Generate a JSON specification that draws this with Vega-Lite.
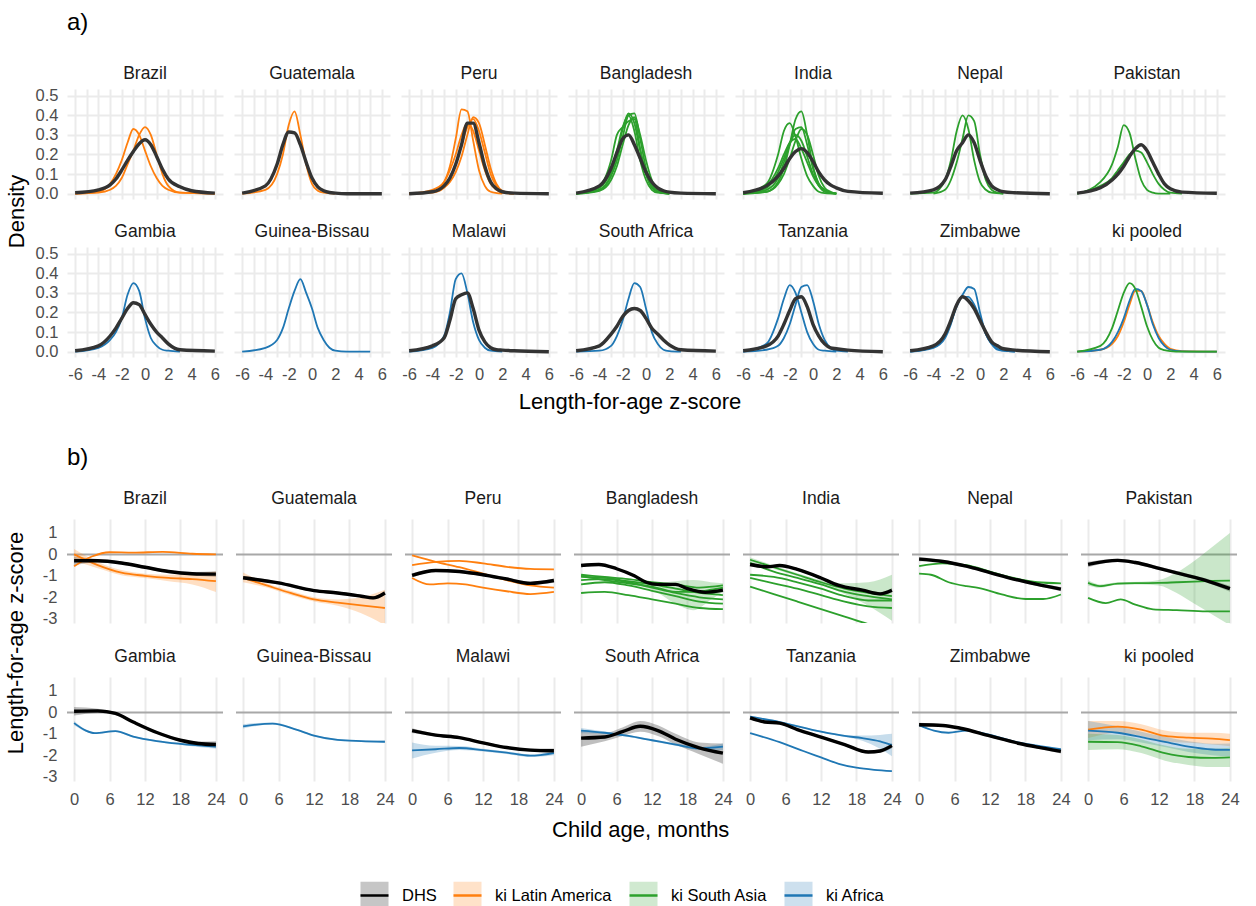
{
"$schema":"https://vega.github.io/schema/vega-lite/v6.json",
"padding":{"left":5,"top":10,"right":5,"bottom":5},
"background":"white",
"config":{"font":"Liberation Sans","view":{"stroke":null},
"axis":{"labelColor":"#4D4D4D","labelFontSize":16.5,"ticks":false,"domain":false,"gridColor":"#EBEBEB","gridWidth":2,"labelPadding":9,"labelOverlap":false,"labelFlush":false,"title":null},
"title":{"fontSize":24,"fontWeight":"normal","anchor":"start","color":"#000000"},
"concat":{"spacing":32}},
"resolve":{"scale":{"stroke":"shared","fill":"shared"},"legend":{"stroke":"shared","fill":"shared"}},
"datasets":{
"curves":[
{"k":"a1","c":"Brazil","g":"DHS"},{"k":"a2","c":"Brazil","g":"ki Latin America"},{"k":"a3","c":"Brazil","g":"ki Latin America"},
{"k":"a4","c":"Guatemala","g":"DHS"},{"k":"a5","c":"Guatemala","g":"ki Latin America"},
{"k":"a6","c":"Peru","g":"DHS"},{"k":"a7","c":"Peru","g":"ki Latin America"},{"k":"a8","c":"Peru","g":"ki Latin America"},{"k":"a9","c":"Peru","g":"ki Latin America"},{"k":"a10","c":"Peru","g":"ki Latin America"},
{"k":"a11","c":"Bangladesh","g":"DHS"},{"k":"a12","c":"Bangladesh","g":"ki South Asia"},{"k":"a13","c":"Bangladesh","g":"ki South Asia"},{"k":"a14","c":"Bangladesh","g":"ki South Asia"},{"k":"a15","c":"Bangladesh","g":"ki South Asia"},{"k":"a16","c":"Bangladesh","g":"ki South Asia"},
{"k":"a17","c":"India","g":"DHS"},{"k":"a18","c":"India","g":"ki South Asia"},{"k":"a19","c":"India","g":"ki South Asia"},{"k":"a20","c":"India","g":"ki South Asia"},{"k":"a21","c":"India","g":"ki South Asia"},{"k":"a22","c":"India","g":"ki South Asia"},{"k":"a23","c":"India","g":"ki South Asia"},
{"k":"a24","c":"Nepal","g":"DHS"},{"k":"a25","c":"Nepal","g":"ki South Asia"},{"k":"a26","c":"Nepal","g":"ki South Asia"},
{"k":"a27","c":"Pakistan","g":"DHS"},{"k":"a28","c":"Pakistan","g":"ki South Asia"},{"k":"a29","c":"Pakistan","g":"ki South Asia"},
{"k":"a30","c":"Gambia","g":"DHS"},{"k":"a31","c":"Gambia","g":"ki Africa"},
{"k":"a32","c":"Guinea-Bissau","g":"ki Africa"},
{"k":"a33","c":"Malawi","g":"DHS"},{"k":"a34","c":"Malawi","g":"ki Africa"},
{"k":"a35","c":"South Africa","g":"DHS"},{"k":"a36","c":"South Africa","g":"ki Africa"},
{"k":"a37","c":"Tanzania","g":"DHS"},{"k":"a38","c":"Tanzania","g":"ki Africa"},{"k":"a39","c":"Tanzania","g":"ki Africa"},
{"k":"a40","c":"Zimbabwe","g":"DHS"},{"k":"a41","c":"Zimbabwe","g":"ki Africa"},{"k":"a42","c":"Zimbabwe","g":"ki Africa"},
{"k":"a43","c":"ki pooled","g":"ki Latin America"},{"k":"a44","c":"ki pooled","g":"ki Africa"},{"k":"a45","c":"ki pooled","g":"ki South Asia"},
{"k":"b1","c":"Brazil","g":"DHS"},{"k":"b2","c":"Brazil","g":"ki Latin America"},{"k":"b3","c":"Brazil","g":"ki Latin America"},
{"k":"b4","c":"Guatemala","g":"DHS"},{"k":"b5","c":"Guatemala","g":"ki Latin America"},
{"k":"b6","c":"Peru","g":"DHS"},{"k":"b7","c":"Peru","g":"ki Latin America"},{"k":"b8","c":"Peru","g":"ki Latin America"},{"k":"b9","c":"Peru","g":"ki Latin America"},
{"k":"b10","c":"Bangladesh","g":"DHS"},{"k":"b11","c":"Bangladesh","g":"ki South Asia"},{"k":"b12","c":"Bangladesh","g":"ki South Asia"},{"k":"b13","c":"Bangladesh","g":"ki South Asia"},{"k":"b14","c":"Bangladesh","g":"ki South Asia"},{"k":"b15","c":"Bangladesh","g":"ki South Asia"},{"k":"b16","c":"Bangladesh","g":"ki South Asia"},
{"k":"b17","c":"India","g":"DHS"},{"k":"b18","c":"India","g":"ki South Asia"},{"k":"b19","c":"India","g":"ki South Asia"},{"k":"b20","c":"India","g":"ki South Asia"},{"k":"b21","c":"India","g":"ki South Asia"},{"k":"b22","c":"India","g":"ki South Asia"},
{"k":"b23","c":"Nepal","g":"DHS"},{"k":"b24","c":"Nepal","g":"ki South Asia"},{"k":"b25","c":"Nepal","g":"ki South Asia"},
{"k":"b26","c":"Pakistan","g":"DHS"},{"k":"b27","c":"Pakistan","g":"ki South Asia"},{"k":"b28","c":"Pakistan","g":"ki South Asia"},
{"k":"b29","c":"Gambia","g":"DHS"},{"k":"b30","c":"Gambia","g":"ki Africa"},
{"k":"b31","c":"Guinea-Bissau","g":"ki Africa"},
{"k":"b32","c":"Malawi","g":"DHS"},{"k":"b33","c":"Malawi","g":"ki Africa"},
{"k":"b34","c":"South Africa","g":"DHS"},{"k":"b35","c":"South Africa","g":"ki Africa"},
{"k":"b36","c":"Tanzania","g":"DHS"},{"k":"b37","c":"Tanzania","g":"ki Africa"},{"k":"b38","c":"Tanzania","g":"ki Africa"},
{"k":"b39","c":"Zimbabwe","g":"DHS"},{"k":"b40","c":"Zimbabwe","g":"ki Africa"},
{"k":"b41","c":"ki pooled","g":"ki Latin America"},{"k":"b42","c":"ki pooled","g":"ki Africa"},{"k":"b43","c":"ki pooled","g":"ki South Asia"}
],
"dens":[
{"k":"a1","x":-6,"y":0.005},{"k":"a1","x":-4,"y":0.02},{"k":"a1","x":-3,"y":0.045},{"k":"a1","x":-2.5,"y":0.075},{"k":"a1","x":-2,"y":0.12},{"k":"a1","x":-1.5,"y":0.17},{"k":"a1","x":-1,"y":0.215},{"k":"a1","x":-0.5,"y":0.255},{"k":"a1","x":0,"y":0.275},{"k":"a1","x":0.5,"y":0.25},{"k":"a1","x":1,"y":0.19},{"k":"a1","x":1.5,"y":0.125},{"k":"a1","x":2,"y":0.075},{"k":"a1","x":3,"y":0.035},{"k":"a1","x":4,"y":0.015},{"k":"a1","x":6,"y":0.003},
{"k":"a2","x":-6,"y":0},{"k":"a2","x":-4,"y":0.01},{"k":"a2","x":-3,"y":0.05},{"k":"a2","x":-2.5,"y":0.1},{"k":"a2","x":-2,"y":0.17},{"k":"a2","x":-1.5,"y":0.26},{"k":"a2","x":-1,"y":0.33},{"k":"a2","x":-0.5,"y":0.3},{"k":"a2","x":0,"y":0.22},{"k":"a2","x":0.5,"y":0.14},{"k":"a2","x":1,"y":0.08},{"k":"a2","x":1.5,"y":0.04},{"k":"a2","x":2,"y":0.02},{"k":"a2","x":3,"y":0.005},{"k":"a2","x":6,"y":0},
{"k":"a3","x":-6,"y":0},{"k":"a3","x":-4,"y":0.005},{"k":"a3","x":-3,"y":0.02},{"k":"a3","x":-2.5,"y":0.04},{"k":"a3","x":-2,"y":0.08},{"k":"a3","x":-1.5,"y":0.15},{"k":"a3","x":-1,"y":0.22},{"k":"a3","x":-0.5,"y":0.3},{"k":"a3","x":0,"y":0.34},{"k":"a3","x":0.5,"y":0.3},{"k":"a3","x":1,"y":0.2},{"k":"a3","x":1.5,"y":0.1},{"k":"a3","x":2,"y":0.04},{"k":"a3","x":3,"y":0.005},{"k":"a3","x":6,"y":0},
{"k":"a4","x":-6,"y":0.003},{"k":"a4","x":-4,"y":0.04},{"k":"a4","x":-3,"y":0.15},{"k":"a4","x":-2.5,"y":0.25},{"k":"a4","x":-2,"y":0.315},{"k":"a4","x":-1.5,"y":0.31},{"k":"a4","x":-1,"y":0.25},{"k":"a4","x":-0.5,"y":0.16},{"k":"a4","x":0,"y":0.08},{"k":"a4","x":0.5,"y":0.035},{"k":"a4","x":1,"y":0.015},{"k":"a4","x":1.5,"y":0.006},{"k":"a4","x":2,"y":0.003},{"k":"a4","x":3,"y":0},{"k":"a4","x":6,"y":0},
{"k":"a5","x":-6,"y":0},{"k":"a5","x":-4,"y":0.02},{"k":"a5","x":-3,"y":0.1},{"k":"a5","x":-2.5,"y":0.2},{"k":"a5","x":-2,"y":0.35},{"k":"a5","x":-1.5,"y":0.42},{"k":"a5","x":-1,"y":0.3},{"k":"a5","x":-0.5,"y":0.15},{"k":"a5","x":0,"y":0.05},{"k":"a5","x":0.5,"y":0.015},{"k":"a5","x":1,"y":0.005},{"k":"a5","x":2,"y":0},
{"k":"a6","x":-6,"y":0},{"k":"a6","x":-4,"y":0.01},{"k":"a6","x":-3,"y":0.04},{"k":"a6","x":-2.5,"y":0.08},{"k":"a6","x":-2,"y":0.15},{"k":"a6","x":-1.5,"y":0.25},{"k":"a6","x":-1,"y":0.36},{"k":"a6","x":-0.5,"y":0.36},{"k":"a6","x":0,"y":0.26},{"k":"a6","x":0.5,"y":0.14},{"k":"a6","x":1,"y":0.06},{"k":"a6","x":1.5,"y":0.025},{"k":"a6","x":2,"y":0.01},{"k":"a6","x":3,"y":0.003},{"k":"a6","x":6,"y":0},
{"k":"a7","x":-6,"y":0},{"k":"a7","x":-4,"y":0.01},{"k":"a7","x":-3,"y":0.06},{"k":"a7","x":-2.5,"y":0.14},{"k":"a7","x":-2,"y":0.28},{"k":"a7","x":-1.5,"y":0.43},{"k":"a7","x":-1,"y":0.42},{"k":"a7","x":-0.5,"y":0.27},{"k":"a7","x":0,"y":0.12},{"k":"a7","x":0.5,"y":0.04},{"k":"a7","x":1,"y":0.01},{"k":"a7","x":2,"y":0},
{"k":"a8","x":-6,"y":0},{"k":"a8","x":-4,"y":0.005},{"k":"a8","x":-3,"y":0.03},{"k":"a8","x":-2.5,"y":0.06},{"k":"a8","x":-2,"y":0.11},{"k":"a8","x":-1.5,"y":0.19},{"k":"a8","x":-1,"y":0.3},{"k":"a8","x":-0.5,"y":0.39},{"k":"a8","x":0,"y":0.36},{"k":"a8","x":0.5,"y":0.25},{"k":"a8","x":1,"y":0.13},{"k":"a8","x":1.5,"y":0.05},{"k":"a8","x":2,"y":0.015},{"k":"a8","x":3,"y":0},
{"k":"a9","x":-6,"y":0},{"k":"a9","x":-4,"y":0.01},{"k":"a9","x":-3,"y":0.04},{"k":"a9","x":-2.5,"y":0.08},{"k":"a9","x":-2,"y":0.15},{"k":"a9","x":-1.5,"y":0.25},{"k":"a9","x":-1,"y":0.34},{"k":"a9","x":-0.5,"y":0.38},{"k":"a9","x":0,"y":0.32},{"k":"a9","x":0.5,"y":0.21},{"k":"a9","x":1,"y":0.1},{"k":"a9","x":1.5,"y":0.04},{"k":"a9","x":2,"y":0.01},{"k":"a9","x":3,"y":0},
{"k":"a10","x":-6,"y":0},{"k":"a10","x":-4,"y":0.02},{"k":"a10","x":-3,"y":0.06},{"k":"a10","x":-2.5,"y":0.12},{"k":"a10","x":-2,"y":0.2},{"k":"a10","x":-1.5,"y":0.3},{"k":"a10","x":-1,"y":0.36},{"k":"a10","x":-0.5,"y":0.32},{"k":"a10","x":0,"y":0.22},{"k":"a10","x":0.5,"y":0.12},{"k":"a10","x":1,"y":0.05},{"k":"a10","x":1.5,"y":0.02},{"k":"a10","x":2,"y":0.005},{"k":"a10","x":3,"y":0},
{"k":"a11","x":-6,"y":0.003},{"k":"a11","x":-4,"y":0.04},{"k":"a11","x":-3,"y":0.13},{"k":"a11","x":-2.5,"y":0.21},{"k":"a11","x":-2,"y":0.28},{"k":"a11","x":-1.5,"y":0.3},{"k":"a11","x":-1,"y":0.25},{"k":"a11","x":-0.5,"y":0.18},{"k":"a11","x":0,"y":0.11},{"k":"a11","x":0.5,"y":0.06},{"k":"a11","x":1,"y":0.03},{"k":"a11","x":1.5,"y":0.015},{"k":"a11","x":2,"y":0.008},{"k":"a11","x":3,"y":0.003},{"k":"a11","x":6,"y":0},
{"k":"a12","x":-6,"y":0},{"k":"a12","x":-4,"y":0.02},{"k":"a12","x":-3,"y":0.09},{"k":"a12","x":-2.5,"y":0.17},{"k":"a12","x":-2,"y":0.29},{"k":"a12","x":-1.5,"y":0.4},{"k":"a12","x":-1,"y":0.41},{"k":"a12","x":-0.5,"y":0.28},{"k":"a12","x":0,"y":0.13},{"k":"a12","x":0.5,"y":0.05},{"k":"a12","x":1,"y":0.015},{"k":"a12","x":2,"y":0},
{"k":"a13","x":-6,"y":0},{"k":"a13","x":-4,"y":0.02},{"k":"a13","x":-3,"y":0.1},{"k":"a13","x":-2.5,"y":0.2},{"k":"a13","x":-2,"y":0.33},{"k":"a13","x":-1.5,"y":0.41},{"k":"a13","x":-1,"y":0.36},{"k":"a13","x":-0.5,"y":0.22},{"k":"a13","x":0,"y":0.1},{"k":"a13","x":0.5,"y":0.04},{"k":"a13","x":1,"y":0.01},{"k":"a13","x":2,"y":0},
{"k":"a14","x":-6,"y":0},{"k":"a14","x":-4,"y":0.04},{"k":"a14","x":-3,"y":0.17},{"k":"a14","x":-2.5,"y":0.3},{"k":"a14","x":-2,"y":0.34},{"k":"a14","x":-1.5,"y":0.37},{"k":"a14","x":-1,"y":0.38},{"k":"a14","x":-0.5,"y":0.23},{"k":"a14","x":0,"y":0.1},{"k":"a14","x":0.5,"y":0.03},{"k":"a14","x":1,"y":0.01},{"k":"a14","x":2,"y":0},
{"k":"a15","x":-6,"y":0},{"k":"a15","x":-4,"y":0.015},{"k":"a15","x":-3,"y":0.07},{"k":"a15","x":-2.5,"y":0.14},{"k":"a15","x":-2,"y":0.25},{"k":"a15","x":-1.5,"y":0.35},{"k":"a15","x":-1,"y":0.39},{"k":"a15","x":-0.5,"y":0.3},{"k":"a15","x":0,"y":0.17},{"k":"a15","x":0.5,"y":0.07},{"k":"a15","x":1,"y":0.02},{"k":"a15","x":2,"y":0},
{"k":"a16","x":-6,"y":0},{"k":"a16","x":-4,"y":0.03},{"k":"a16","x":-3,"y":0.12},{"k":"a16","x":-2.5,"y":0.22},{"k":"a16","x":-2,"y":0.34},{"k":"a16","x":-1.5,"y":0.4},{"k":"a16","x":-1,"y":0.32},{"k":"a16","x":-0.5,"y":0.17},{"k":"a16","x":0,"y":0.07},{"k":"a16","x":0.5,"y":0.02},{"k":"a16","x":1,"y":0.005},{"k":"a16","x":2,"y":0},
{"k":"a17","x":-6,"y":0.005},{"k":"a17","x":-4,"y":0.04},{"k":"a17","x":-3,"y":0.09},{"k":"a17","x":-2.5,"y":0.13},{"k":"a17","x":-2,"y":0.18},{"k":"a17","x":-1.5,"y":0.215},{"k":"a17","x":-1,"y":0.23},{"k":"a17","x":-0.5,"y":0.21},{"k":"a17","x":0,"y":0.165},{"k":"a17","x":0.5,"y":0.11},{"k":"a17","x":1,"y":0.07},{"k":"a17","x":1.5,"y":0.045},{"k":"a17","x":2,"y":0.03},{"k":"a17","x":3,"y":0.012},{"k":"a17","x":6,"y":0.002},
{"k":"a18","x":-6,"y":0},{"k":"a18","x":-4,"y":0.01},{"k":"a18","x":-3,"y":0.06},{"k":"a18","x":-2.5,"y":0.13},{"k":"a18","x":-2,"y":0.25},{"k":"a18","x":-1.5,"y":0.38},{"k":"a18","x":-1,"y":0.42},{"k":"a18","x":-0.5,"y":0.3},{"k":"a18","x":0,"y":0.14},{"k":"a18","x":0.5,"y":0.05},{"k":"a18","x":1,"y":0.015},{"k":"a18","x":2,"y":0},
{"k":"a19","x":-6,"y":0},{"k":"a19","x":-4,"y":0.05},{"k":"a19","x":-3,"y":0.2},{"k":"a19","x":-2.5,"y":0.32},{"k":"a19","x":-2,"y":0.36},{"k":"a19","x":-1.5,"y":0.29},{"k":"a19","x":-1,"y":0.18},{"k":"a19","x":-0.5,"y":0.09},{"k":"a19","x":0,"y":0.04},{"k":"a19","x":0.5,"y":0.01},{"k":"a19","x":1,"y":0.003},{"k":"a19","x":2,"y":0},
{"k":"a20","x":-6,"y":0},{"k":"a20","x":-4,"y":0.02},{"k":"a20","x":-3,"y":0.08},{"k":"a20","x":-2.5,"y":0.16},{"k":"a20","x":-2,"y":0.25},{"k":"a20","x":-1.5,"y":0.33},{"k":"a20","x":-1,"y":0.34},{"k":"a20","x":-0.5,"y":0.25},{"k":"a20","x":0,"y":0.13},{"k":"a20","x":0.5,"y":0.05},{"k":"a20","x":1,"y":0.02},{"k":"a20","x":2,"y":0},
{"k":"a21","x":-6,"y":0},{"k":"a21","x":-4,"y":0.03},{"k":"a21","x":-3,"y":0.11},{"k":"a21","x":-2.5,"y":0.18},{"k":"a21","x":-2,"y":0.26},{"k":"a21","x":-1.5,"y":0.3},{"k":"a21","x":-1,"y":0.27},{"k":"a21","x":-0.5,"y":0.19},{"k":"a21","x":0,"y":0.1},{"k":"a21","x":0.5,"y":0.04},{"k":"a21","x":1,"y":0.01},{"k":"a21","x":2,"y":0},
{"k":"a22","x":-6,"y":0},{"k":"a22","x":-4,"y":0.01},{"k":"a22","x":-3,"y":0.05},{"k":"a22","x":-2.5,"y":0.1},{"k":"a22","x":-2,"y":0.18},{"k":"a22","x":-1.5,"y":0.27},{"k":"a22","x":-1,"y":0.33},{"k":"a22","x":-0.5,"y":0.3},{"k":"a22","x":0,"y":0.2},{"k":"a22","x":0.5,"y":0.09},{"k":"a22","x":1,"y":0.03},{"k":"a22","x":1.5,"y":0.01},{"k":"a22","x":2,"y":0},
{"k":"a23","x":-6,"y":0},{"k":"a23","x":-4,"y":0.04},{"k":"a23","x":-3,"y":0.13},{"k":"a23","x":-2.5,"y":0.2},{"k":"a23","x":-2,"y":0.26},{"k":"a23","x":-1.5,"y":0.28},{"k":"a23","x":-1,"y":0.23},{"k":"a23","x":-0.5,"y":0.16},{"k":"a23","x":0,"y":0.09},{"k":"a23","x":0.5,"y":0.04},{"k":"a23","x":1,"y":0.015},{"k":"a23","x":2,"y":0},
{"k":"a24","x":-6,"y":0.003},{"k":"a24","x":-4,"y":0.02},{"k":"a24","x":-3,"y":0.07},{"k":"a24","x":-2.5,"y":0.14},{"k":"a24","x":-2,"y":0.22},{"k":"a24","x":-1.5,"y":0.26},{"k":"a24","x":-1,"y":0.3},{"k":"a24","x":-0.5,"y":0.26},{"k":"a24","x":0,"y":0.17},{"k":"a24","x":0.5,"y":0.09},{"k":"a24","x":1,"y":0.04},{"k":"a24","x":1.5,"y":0.02},{"k":"a24","x":2,"y":0.01},{"k":"a24","x":3,"y":0.005},{"k":"a24","x":6,"y":0},
{"k":"a25","x":-6,"y":0},{"k":"a25","x":-4,"y":0.005},{"k":"a25","x":-3,"y":0.07},{"k":"a25","x":-2.5,"y":0.17},{"k":"a25","x":-2,"y":0.32},{"k":"a25","x":-1.5,"y":0.4},{"k":"a25","x":-1,"y":0.33},{"k":"a25","x":-0.5,"y":0.17},{"k":"a25","x":0,"y":0.06},{"k":"a25","x":0.5,"y":0.02},{"k":"a25","x":1,"y":0.005},{"k":"a25","x":2,"y":0},
{"k":"a26","x":-4,"y":0},{"k":"a26","x":-3,"y":0.02},{"k":"a26","x":-2.5,"y":0.07},{"k":"a26","x":-2,"y":0.16},{"k":"a26","x":-1.5,"y":0.28},{"k":"a26","x":-1,"y":0.4},{"k":"a26","x":-0.5,"y":0.37},{"k":"a26","x":0,"y":0.2},{"k":"a26","x":0.5,"y":0.07},{"k":"a26","x":1,"y":0.02},{"k":"a26","x":1.5,"y":0.005},{"k":"a26","x":2,"y":0},
{"k":"a27","x":-6,"y":0.003},{"k":"a27","x":-4,"y":0.03},{"k":"a27","x":-3,"y":0.07},{"k":"a27","x":-2.5,"y":0.1},{"k":"a27","x":-2,"y":0.14},{"k":"a27","x":-1.5,"y":0.19},{"k":"a27","x":-1,"y":0.23},{"k":"a27","x":-0.5,"y":0.25},{"k":"a27","x":0,"y":0.22},{"k":"a27","x":0.5,"y":0.16},{"k":"a27","x":1,"y":0.1},{"k":"a27","x":1.5,"y":0.05},{"k":"a27","x":2,"y":0.025},{"k":"a27","x":3,"y":0.008},{"k":"a27","x":6,"y":0.002},
{"k":"a28","x":-6,"y":0},{"k":"a28","x":-4,"y":0.06},{"k":"a28","x":-3,"y":0.15},{"k":"a28","x":-2.5,"y":0.24},{"k":"a28","x":-2,"y":0.35},{"k":"a28","x":-1.5,"y":0.31},{"k":"a28","x":-1,"y":0.18},{"k":"a28","x":-0.5,"y":0.07},{"k":"a28","x":0,"y":0.02},{"k":"a28","x":0.5,"y":0.005},{"k":"a28","x":1,"y":0},{"k":"a28","x":2,"y":0},
{"k":"a29","x":-6,"y":0},{"k":"a29","x":-4,"y":0.04},{"k":"a29","x":-3,"y":0.08},{"k":"a29","x":-2.5,"y":0.12},{"k":"a29","x":-2,"y":0.16},{"k":"a29","x":-1.5,"y":0.2},{"k":"a29","x":-1,"y":0.22},{"k":"a29","x":-0.5,"y":0.21},{"k":"a29","x":0,"y":0.16},{"k":"a29","x":0.5,"y":0.1},{"k":"a29","x":1,"y":0.05},{"k":"a29","x":1.5,"y":0.02},{"k":"a29","x":2,"y":0.005},{"k":"a29","x":3,"y":0},
{"k":"a30","x":-6,"y":0.005},{"k":"a30","x":-4,"y":0.03},{"k":"a30","x":-3,"y":0.08},{"k":"a30","x":-2.5,"y":0.12},{"k":"a30","x":-2,"y":0.17},{"k":"a30","x":-1.5,"y":0.22},{"k":"a30","x":-1,"y":0.25},{"k":"a30","x":-0.5,"y":0.24},{"k":"a30","x":0,"y":0.19},{"k":"a30","x":0.5,"y":0.14},{"k":"a30","x":1,"y":0.1},{"k":"a30","x":1.5,"y":0.07},{"k":"a30","x":2,"y":0.04},{"k":"a30","x":3,"y":0.01},{"k":"a30","x":6,"y":0.003},
{"k":"a31","x":-6,"y":0},{"k":"a31","x":-4,"y":0.02},{"k":"a31","x":-3,"y":0.06},{"k":"a31","x":-2.5,"y":0.1},{"k":"a31","x":-2,"y":0.17},{"k":"a31","x":-1.5,"y":0.29},{"k":"a31","x":-1,"y":0.35},{"k":"a31","x":-0.5,"y":0.31},{"k":"a31","x":0,"y":0.17},{"k":"a31","x":0.5,"y":0.07},{"k":"a31","x":1,"y":0.03},{"k":"a31","x":1.5,"y":0.01},{"k":"a31","x":2,"y":0.005},{"k":"a31","x":3,"y":0},
{"k":"a32","x":-6,"y":0},{"k":"a32","x":-4,"y":0.02},{"k":"a32","x":-3,"y":0.06},{"k":"a32","x":-2.5,"y":0.12},{"k":"a32","x":-2,"y":0.22},{"k":"a32","x":-1.5,"y":0.31},{"k":"a32","x":-1,"y":0.37},{"k":"a32","x":-0.5,"y":0.3},{"k":"a32","x":0,"y":0.22},{"k":"a32","x":0.5,"y":0.12},{"k":"a32","x":1,"y":0.06},{"k":"a32","x":1.5,"y":0.02},{"k":"a32","x":2,"y":0.005},{"k":"a32","x":3,"y":0},{"k":"a32","x":5,"y":0},
{"k":"a33","x":-6,"y":0.005},{"k":"a33","x":-4,"y":0.03},{"k":"a33","x":-3,"y":0.07},{"k":"a33","x":-2.5,"y":0.16},{"k":"a33","x":-2,"y":0.27},{"k":"a33","x":-1.5,"y":0.29},{"k":"a33","x":-1,"y":0.3},{"k":"a33","x":-0.5,"y":0.22},{"k":"a33","x":0,"y":0.11},{"k":"a33","x":0.5,"y":0.05},{"k":"a33","x":1,"y":0.02},{"k":"a33","x":1.5,"y":0.01},{"k":"a33","x":2,"y":0.008},{"k":"a33","x":3,"y":0.005},{"k":"a33","x":6,"y":0},
{"k":"a34","x":-6,"y":0},{"k":"a34","x":-4,"y":0.02},{"k":"a34","x":-3,"y":0.08},{"k":"a34","x":-2.5,"y":0.2},{"k":"a34","x":-2,"y":0.37},{"k":"a34","x":-1.5,"y":0.4},{"k":"a34","x":-1,"y":0.3},{"k":"a34","x":-0.5,"y":0.15},{"k":"a34","x":0,"y":0.06},{"k":"a34","x":0.5,"y":0.02},{"k":"a34","x":1,"y":0.005},{"k":"a34","x":2,"y":0},
{"k":"a35","x":-6,"y":0.005},{"k":"a35","x":-4,"y":0.03},{"k":"a35","x":-3,"y":0.09},{"k":"a35","x":-2.5,"y":0.13},{"k":"a35","x":-2,"y":0.18},{"k":"a35","x":-1.5,"y":0.21},{"k":"a35","x":-1,"y":0.22},{"k":"a35","x":-0.5,"y":0.21},{"k":"a35","x":0,"y":0.17},{"k":"a35","x":0.5,"y":0.12},{"k":"a35","x":1,"y":0.09},{"k":"a35","x":1.5,"y":0.06},{"k":"a35","x":2,"y":0.035},{"k":"a35","x":3,"y":0.01},{"k":"a35","x":6,"y":0.003},
{"k":"a36","x":-6,"y":0},{"k":"a36","x":-4,"y":0.005},{"k":"a36","x":-3,"y":0.03},{"k":"a36","x":-2.5,"y":0.08},{"k":"a36","x":-2,"y":0.16},{"k":"a36","x":-1.5,"y":0.27},{"k":"a36","x":-1,"y":0.35},{"k":"a36","x":-0.5,"y":0.33},{"k":"a36","x":0,"y":0.22},{"k":"a36","x":0.5,"y":0.1},{"k":"a36","x":1,"y":0.04},{"k":"a36","x":1.5,"y":0.01},{"k":"a36","x":2,"y":0.003},{"k":"a36","x":3,"y":0},
{"k":"a37","x":-6,"y":0.005},{"k":"a37","x":-4,"y":0.03},{"k":"a37","x":-3,"y":0.08},{"k":"a37","x":-2.5,"y":0.14},{"k":"a37","x":-2,"y":0.21},{"k":"a37","x":-1.5,"y":0.27},{"k":"a37","x":-1,"y":0.28},{"k":"a37","x":-0.5,"y":0.23},{"k":"a37","x":0,"y":0.14},{"k":"a37","x":0.5,"y":0.08},{"k":"a37","x":1,"y":0.04},{"k":"a37","x":1.5,"y":0.02},{"k":"a37","x":2,"y":0.015},{"k":"a37","x":3,"y":0.008},{"k":"a37","x":6,"y":0},
{"k":"a38","x":-6,"y":0},{"k":"a38","x":-4,"y":0.04},{"k":"a38","x":-3,"y":0.17},{"k":"a38","x":-2.5,"y":0.27},{"k":"a38","x":-2,"y":0.34},{"k":"a38","x":-1.5,"y":0.3},{"k":"a38","x":-1,"y":0.2},{"k":"a38","x":-0.5,"y":0.1},{"k":"a38","x":0,"y":0.04},{"k":"a38","x":0.5,"y":0.01},{"k":"a38","x":1,"y":0.005},{"k":"a38","x":2,"y":0},
{"k":"a39","x":-6,"y":0},{"k":"a39","x":-4,"y":0.01},{"k":"a39","x":-3,"y":0.03},{"k":"a39","x":-2.5,"y":0.07},{"k":"a39","x":-2,"y":0.14},{"k":"a39","x":-1.5,"y":0.24},{"k":"a39","x":-1,"y":0.33},{"k":"a39","x":-0.5,"y":0.34},{"k":"a39","x":0,"y":0.26},{"k":"a39","x":0.5,"y":0.14},{"k":"a39","x":1,"y":0.06},{"k":"a39","x":1.5,"y":0.02},{"k":"a39","x":2,"y":0.005},{"k":"a39","x":3,"y":0},
{"k":"a40","x":-6,"y":0.005},{"k":"a40","x":-4,"y":0.03},{"k":"a40","x":-3,"y":0.09},{"k":"a40","x":-2.5,"y":0.16},{"k":"a40","x":-2,"y":0.24},{"k":"a40","x":-1.5,"y":0.28},{"k":"a40","x":-1,"y":0.26},{"k":"a40","x":-0.5,"y":0.22},{"k":"a40","x":0,"y":0.16},{"k":"a40","x":0.5,"y":0.1},{"k":"a40","x":1,"y":0.05},{"k":"a40","x":1.5,"y":0.03},{"k":"a40","x":2,"y":0.015},{"k":"a40","x":3,"y":0.008},{"k":"a40","x":6,"y":0},
{"k":"a41","x":-6,"y":0},{"k":"a41","x":-4,"y":0.02},{"k":"a41","x":-3,"y":0.07},{"k":"a41","x":-2.5,"y":0.14},{"k":"a41","x":-2,"y":0.24},{"k":"a41","x":-1.5,"y":0.29},{"k":"a41","x":-1,"y":0.33},{"k":"a41","x":-0.5,"y":0.32},{"k":"a41","x":0,"y":0.2},{"k":"a41","x":0.5,"y":0.09},{"k":"a41","x":1,"y":0.04},{"k":"a41","x":1.5,"y":0.01},{"k":"a41","x":2,"y":0.005},{"k":"a41","x":3,"y":0},
{"k":"a42","x":-6,"y":0},{"k":"a42","x":-4,"y":0.025},{"k":"a42","x":-3,"y":0.08},{"k":"a42","x":-2.5,"y":0.15},{"k":"a42","x":-2,"y":0.23},{"k":"a42","x":-1.5,"y":0.28},{"k":"a42","x":-1,"y":0.28},{"k":"a42","x":-0.5,"y":0.24},{"k":"a42","x":0,"y":0.17},{"k":"a42","x":0.5,"y":0.09},{"k":"a42","x":1,"y":0.04},{"k":"a42","x":1.5,"y":0.015},{"k":"a42","x":2,"y":0.005},{"k":"a42","x":3,"y":0},
{"k":"a43","x":-6,"y":0},{"k":"a43","x":-4,"y":0.01},{"k":"a43","x":-3,"y":0.04},{"k":"a43","x":-2.5,"y":0.08},{"k":"a43","x":-2,"y":0.15},{"k":"a43","x":-1.5,"y":0.24},{"k":"a43","x":-1,"y":0.31},{"k":"a43","x":-0.5,"y":0.31},{"k":"a43","x":0,"y":0.24},{"k":"a43","x":0.5,"y":0.15},{"k":"a43","x":1,"y":0.08},{"k":"a43","x":1.5,"y":0.04},{"k":"a43","x":2,"y":0.015},{"k":"a43","x":3,"y":0.003},{"k":"a43","x":6,"y":0},
{"k":"a44","x":-6,"y":0},{"k":"a44","x":-4,"y":0.01},{"k":"a44","x":-3,"y":0.05},{"k":"a44","x":-2.5,"y":0.1},{"k":"a44","x":-2,"y":0.17},{"k":"a44","x":-1.5,"y":0.26},{"k":"a44","x":-1,"y":0.32},{"k":"a44","x":-0.5,"y":0.31},{"k":"a44","x":0,"y":0.24},{"k":"a44","x":0.5,"y":0.14},{"k":"a44","x":1,"y":0.07},{"k":"a44","x":1.5,"y":0.03},{"k":"a44","x":2,"y":0.01},{"k":"a44","x":3,"y":0.002},{"k":"a44","x":6,"y":0},
{"k":"a45","x":-6,"y":0},{"k":"a45","x":-4,"y":0.03},{"k":"a45","x":-3,"y":0.12},{"k":"a45","x":-2.5,"y":0.21},{"k":"a45","x":-2,"y":0.3},{"k":"a45","x":-1.5,"y":0.35},{"k":"a45","x":-1,"y":0.32},{"k":"a45","x":-0.5,"y":0.23},{"k":"a45","x":0,"y":0.13},{"k":"a45","x":0.5,"y":0.06},{"k":"a45","x":1,"y":0.02},{"k":"a45","x":1.5,"y":0.008},{"k":"a45","x":2,"y":0.003},{"k":"a45","x":3,"y":0},{"k":"a45","x":6,"y":0}
],
"traj":[
{"k":"b1","t":0,"y":-0.3,"lo":-0.5,"hi":-0.1},{"k":"b1","t":4,"y":-0.3,"lo":-0.38,"hi":-0.22},{"k":"b1","t":8,"y":-0.4,"lo":-0.47,"hi":-0.33},{"k":"b1","t":12,"y":-0.6,"lo":-0.67,"hi":-0.53},{"k":"b1","t":16,"y":-0.8,"lo":-0.87,"hi":-0.73},{"k":"b1","t":20,"y":-0.9,"lo":-0.98,"hi":-0.82},{"k":"b1","t":24,"y":-0.92,"lo":-1.05,"hi":-0.79},
{"k":"b2","t":0,"y":-0.55},{"k":"b2","t":3,"y":-0.1},{"k":"b2","t":6,"y":0.1},{"k":"b2","t":10,"y":0.08},{"k":"b2","t":15,"y":0.12},{"k":"b2","t":20,"y":0.03},{"k":"b2","t":24,"y":0},
{"k":"b3","t":0,"y":0,"lo":-0.3,"hi":0.25},{"k":"b3","t":4,"y":-0.5,"lo":-0.65,"hi":-0.35},{"k":"b3","t":8,"y":-0.85,"lo":-0.97,"hi":-0.73},{"k":"b3","t":12,"y":-1,"lo":-1.1,"hi":-0.9},{"k":"b3","t":16,"y":-1.1,"lo":-1.25,"hi":-0.95},{"k":"b3","t":20,"y":-1.15,"lo":-1.4,"hi":-0.9},{"k":"b3","t":24,"y":-1.25,"lo":-1.75,"hi":-0.8},
{"k":"b4","t":0,"y":-1.09,"lo":-1.17,"hi":-1.01},{"k":"b4","t":6,"y":-1.33,"lo":-1.4,"hi":-1.26},{"k":"b4","t":12,"y":-1.69,"lo":-1.76,"hi":-1.62},{"k":"b4","t":16,"y":-1.8,"lo":-1.87,"hi":-1.73},{"k":"b4","t":20,"y":-1.95,"lo":-2.02,"hi":-1.88},{"k":"b4","t":22,"y":-2.03,"lo":-2.11,"hi":-1.95},{"k":"b4","t":24,"y":-1.8,"lo":-1.9,"hi":-1.7},
{"k":"b5","t":0,"y":-1.1,"lo":-1.3,"hi":-0.85},{"k":"b5","t":4,"y":-1.45,"lo":-1.55,"hi":-1.35},{"k":"b5","t":8,"y":-1.8,"lo":-1.9,"hi":-1.7},{"k":"b5","t":12,"y":-2.1,"lo":-2.2,"hi":-2},{"k":"b5","t":16,"y":-2.25,"lo":-2.4,"hi":-2.1},{"k":"b5","t":20,"y":-2.38,"lo":-2.75,"hi":-2},{"k":"b5","t":24,"y":-2.5,"lo":-3.3,"hi":-1.65},
{"k":"b6","t":0,"y":-0.98,"lo":-1.08,"hi":-0.88},{"k":"b6","t":4,"y":-0.75,"lo":-0.82,"hi":-0.68},{"k":"b6","t":8,"y":-0.8,"lo":-0.87,"hi":-0.73},{"k":"b6","t":12,"y":-0.95,"lo":-1.02,"hi":-0.88},{"k":"b6","t":16,"y":-1.15,"lo":-1.22,"hi":-1.08},{"k":"b6","t":20,"y":-1.35,"lo":-1.43,"hi":-1.27},{"k":"b6","t":24,"y":-1.22,"lo":-1.32,"hi":-1.12},
{"k":"b7","t":0,"y":-0.05},{"k":"b7","t":4,"y":-0.35},{"k":"b7","t":8,"y":-0.6},{"k":"b7","t":12,"y":-0.9},{"k":"b7","t":16,"y":-1.2},{"k":"b7","t":20,"y":-1.45},{"k":"b7","t":24,"y":-1.55},
{"k":"b8","t":0,"y":-0.5},{"k":"b8","t":4,"y":-0.35},{"k":"b8","t":8,"y":-0.3},{"k":"b8","t":12,"y":-0.42},{"k":"b8","t":16,"y":-0.58},{"k":"b8","t":20,"y":-0.68},{"k":"b8","t":24,"y":-0.7},
{"k":"b9","t":0,"y":-1.1},{"k":"b9","t":3,"y":-1.4},{"k":"b9","t":6,"y":-1.35},{"k":"b9","t":9,"y":-1.4},{"k":"b9","t":12,"y":-1.55},{"k":"b9","t":16,"y":-1.72},{"k":"b9","t":20,"y":-1.85},{"k":"b9","t":24,"y":-1.75},
{"k":"b10","t":0,"y":-0.52,"lo":-0.6,"hi":-0.44},{"k":"b10","t":3,"y":-0.47,"lo":-0.53,"hi":-0.41},{"k":"b10","t":6,"y":-0.67,"lo":-0.73,"hi":-0.61},{"k":"b10","t":9,"y":-1,"lo":-1.06,"hi":-0.94},{"k":"b10","t":11,"y":-1.3,"lo":-1.36,"hi":-1.24},{"k":"b10","t":13,"y":-1.4,"lo":-1.46,"hi":-1.34},{"k":"b10","t":16,"y":-1.4,"lo":-1.46,"hi":-1.34},{"k":"b10","t":18,"y":-1.6,"lo":-1.66,"hi":-1.54},{"k":"b10","t":21,"y":-1.77,"lo":-1.84,"hi":-1.7},{"k":"b10","t":24,"y":-1.67,"lo":-1.77,"hi":-1.57},
{"k":"b11","t":0,"y":-0.95},{"k":"b11","t":4,"y":-1.05},{"k":"b11","t":8,"y":-1.15},{"k":"b11","t":12,"y":-1.3},{"k":"b11","t":16,"y":-1.4},{"k":"b11","t":20,"y":-1.55},{"k":"b11","t":24,"y":-1.45},
{"k":"b12","t":0,"y":-1.05},{"k":"b12","t":4,"y":-1.1},{"k":"b12","t":8,"y":-1.25},{"k":"b12","t":12,"y":-1.4},{"k":"b12","t":16,"y":-1.6},{"k":"b12","t":20,"y":-1.8},{"k":"b12","t":24,"y":-1.9},
{"k":"b13","t":0,"y":-1.2},{"k":"b13","t":4,"y":-1.15},{"k":"b13","t":8,"y":-1.3},{"k":"b13","t":12,"y":-1.55},{"k":"b13","t":16,"y":-1.8},{"k":"b13","t":20,"y":-2},{"k":"b13","t":24,"y":-2.1},
{"k":"b14","t":0,"y":-1.4},{"k":"b14","t":4,"y":-1.3},{"k":"b14","t":8,"y":-1.45},{"k":"b14","t":12,"y":-1.7},{"k":"b14","t":16,"y":-1.95},{"k":"b14","t":20,"y":-2.2},{"k":"b14","t":24,"y":-2.3},
{"k":"b15","t":0,"y":-1.8},{"k":"b15","t":4,"y":-1.75},{"k":"b15","t":8,"y":-1.9},{"k":"b15","t":12,"y":-2.1},{"k":"b15","t":16,"y":-2.3},{"k":"b15","t":20,"y":-2.5},{"k":"b15","t":24,"y":-2.55},
{"k":"b16","t":0,"y":-1,"lo":-1.05,"hi":-0.95},{"k":"b16","t":4,"y":-1.2,"lo":-1.25,"hi":-1.15},{"k":"b16","t":8,"y":-1.35,"lo":-1.4,"hi":-1.3},{"k":"b16","t":12,"y":-1.5,"lo":-1.65,"hi":-1.35},{"k":"b16","t":16,"y":-1.75,"lo":-2.3,"hi":-1.25},{"k":"b16","t":19,"y":-1.75,"lo":-2.6,"hi":-1.2},{"k":"b16","t":22,"y":-1.65,"lo":-2.1,"hi":-1.3},{"k":"b16","t":24,"y":-1.55,"lo":-1.75,"hi":-1.35},
{"k":"b17","t":0,"y":-0.47,"lo":-0.55,"hi":-0.39},{"k":"b17","t":3,"y":-0.58,"lo":-0.64,"hi":-0.52},{"k":"b17","t":5,"y":-0.52,"lo":-0.58,"hi":-0.46},{"k":"b17","t":8,"y":-0.7,"lo":-0.76,"hi":-0.64},{"k":"b17","t":12,"y":-1.1,"lo":-1.16,"hi":-1.04},{"k":"b17","t":15,"y":-1.45,"lo":-1.51,"hi":-1.39},{"k":"b17","t":19,"y":-1.67,"lo":-1.73,"hi":-1.61},{"k":"b17","t":22,"y":-1.84,"lo":-1.91,"hi":-1.77},{"k":"b17","t":24,"y":-1.67,"lo":-1.77,"hi":-1.57},
{"k":"b18","t":0,"y":-0.25,"lo":-0.35,"hi":-0.15},{"k":"b18","t":4,"y":-0.6,"lo":-0.68,"hi":-0.52},{"k":"b18","t":8,"y":-0.95,"lo":-1.02,"hi":-0.88},{"k":"b18","t":12,"y":-1.3,"lo":-1.4,"hi":-1.2},{"k":"b18","t":16,"y":-1.6,"lo":-1.85,"hi":-1.35},{"k":"b18","t":20,"y":-1.8,"lo":-2.4,"hi":-1.3},{"k":"b18","t":24,"y":-1.95,"lo":-3.1,"hi":-0.95},
{"k":"b19","t":0,"y":-0.4},{"k":"b19","t":4,"y":-0.8},{"k":"b19","t":8,"y":-1.1},{"k":"b19","t":12,"y":-1.4},{"k":"b19","t":16,"y":-1.75},{"k":"b19","t":20,"y":-1.95},{"k":"b19","t":24,"y":-2.1},
{"k":"b20","t":0,"y":-0.95},{"k":"b20","t":4,"y":-1.05},{"k":"b20","t":8,"y":-1.3},{"k":"b20","t":12,"y":-1.6},{"k":"b20","t":16,"y":-1.95},{"k":"b20","t":20,"y":-2.15},{"k":"b20","t":24,"y":-2.15},
{"k":"b21","t":0,"y":-1.1},{"k":"b21","t":4,"y":-1.35},{"k":"b21","t":8,"y":-1.6},{"k":"b21","t":12,"y":-1.9},{"k":"b21","t":16,"y":-2.2},{"k":"b21","t":20,"y":-2.42},{"k":"b21","t":24,"y":-2.5},
{"k":"b22","t":0,"y":-1.5},{"k":"b22","t":4,"y":-1.85},{"k":"b22","t":8,"y":-2.2},{"k":"b22","t":12,"y":-2.55},{"k":"b22","t":16,"y":-2.9},{"k":"b22","t":20,"y":-3.25},{"k":"b22","t":24,"y":-3.5},
{"k":"b23","t":0,"y":-0.22,"lo":-0.32,"hi":-0.12},{"k":"b23","t":4,"y":-0.33,"lo":-0.41,"hi":-0.25},{"k":"b23","t":8,"y":-0.55,"lo":-0.62,"hi":-0.48},{"k":"b23","t":12,"y":-0.85,"lo":-0.92,"hi":-0.78},{"k":"b23","t":16,"y":-1.15,"lo":-1.22,"hi":-1.08},{"k":"b23","t":20,"y":-1.4,"lo":-1.48,"hi":-1.32},{"k":"b23","t":24,"y":-1.62,"lo":-1.72,"hi":-1.52},
{"k":"b24","t":0,"y":-0.55},{"k":"b24","t":4,"y":-0.42},{"k":"b24","t":8,"y":-0.5},{"k":"b24","t":12,"y":-0.8},{"k":"b24","t":16,"y":-1.1},{"k":"b24","t":20,"y":-1.3},{"k":"b24","t":24,"y":-1.35},
{"k":"b25","t":0,"y":-0.9},{"k":"b25","t":2,"y":-0.95},{"k":"b25","t":5,"y":-1.3},{"k":"b25","t":8,"y":-1.48},{"k":"b25","t":10,"y":-1.56},{"k":"b25","t":14,"y":-1.87},{"k":"b25","t":18,"y":-2.08},{"k":"b25","t":21,"y":-2.08},{"k":"b25","t":24,"y":-1.87},
{"k":"b26","t":0,"y":-0.47,"lo":-0.6,"hi":-0.34},{"k":"b26","t":5,"y":-0.28,"lo":-0.36,"hi":-0.2},{"k":"b26","t":8,"y":-0.38,"lo":-0.46,"hi":-0.3},{"k":"b26","t":12,"y":-0.65,"lo":-0.73,"hi":-0.57},{"k":"b26","t":16,"y":-0.93,"lo":-1.01,"hi":-0.85},{"k":"b26","t":20,"y":-1.22,"lo":-1.31,"hi":-1.13},{"k":"b26","t":24,"y":-1.6,"lo":-1.74,"hi":-1.46},
{"k":"b27","t":0,"y":-1.33,"lo":-1.45,"hi":-1.21},{"k":"b27","t":2,"y":-1.48,"lo":-1.56,"hi":-1.4},{"k":"b27","t":5,"y":-1.36,"lo":-1.42,"hi":-1.3},{"k":"b27","t":9,"y":-1.34,"lo":-1.4,"hi":-1.28},{"k":"b27","t":12,"y":-1.33,"lo":-1.45,"hi":-1.2},{"k":"b27","t":15,"y":-1.3,"lo":-1.8,"hi":-0.85},{"k":"b27","t":18,"y":-1.27,"lo":-2.3,"hi":-0.3},{"k":"b27","t":21,"y":-1.24,"lo":-2.8,"hi":0.35},{"k":"b27","t":24,"y":-1.22,"lo":-3.3,"hi":1},
{"k":"b28","t":0,"y":-2.03},{"k":"b28","t":3,"y":-2.27},{"k":"b28","t":5.5,"y":-2.1},{"k":"b28","t":8,"y":-2.34},{"k":"b28","t":11,"y":-2.56},{"k":"b28","t":15,"y":-2.6},{"k":"b28","t":20,"y":-2.66},{"k":"b28","t":24,"y":-2.66},
{"k":"b29","t":0,"y":0.05,"lo":-0.15,"hi":0.25},{"k":"b29","t":4,"y":0.07,"lo":-0.03,"hi":0.17},{"k":"b29","t":7,"y":-0.05,"lo":-0.12,"hi":0.02},{"k":"b29","t":10,"y":-0.45,"lo":-0.51,"hi":-0.39},{"k":"b29","t":14,"y":-0.94,"lo":-1,"hi":-0.88},{"k":"b29","t":18,"y":-1.3,"lo":-1.37,"hi":-1.23},{"k":"b29","t":21,"y":-1.45,"lo":-1.54,"hi":-1.36},{"k":"b29","t":24,"y":-1.5,"lo":-1.65,"hi":-1.35},
{"k":"b30","t":0,"y":-0.5,"lo":-0.6,"hi":-0.4},{"k":"b30","t":2,"y":-0.85,"lo":-0.9,"hi":-0.8},{"k":"b30","t":3.5,"y":-0.97,"lo":-1.01,"hi":-0.93},{"k":"b30","t":7,"y":-0.87,"lo":-0.91,"hi":-0.83},{"k":"b30","t":10,"y":-1.13,"lo":-1.17,"hi":-1.09},{"k":"b30","t":14,"y":-1.34,"lo":-1.38,"hi":-1.3},{"k":"b30","t":18,"y":-1.47,"lo":-1.52,"hi":-1.42},{"k":"b30","t":24,"y":-1.6,"lo":-1.7,"hi":-1.5},
{"k":"b31","t":0,"y":-0.65,"lo":-0.75,"hi":-0.55},{"k":"b31","t":5,"y":-0.52,"lo":-0.57,"hi":-0.47},{"k":"b31","t":9,"y":-0.8,"lo":-0.84,"hi":-0.76},{"k":"b31","t":12,"y":-1.08,"lo":-1.12,"hi":-1.04},{"k":"b31","t":16,"y":-1.28,"lo":-1.32,"hi":-1.24},{"k":"b31","t":20,"y":-1.34,"lo":-1.38,"hi":-1.3},{"k":"b31","t":24,"y":-1.37,"lo":-1.43,"hi":-1.31},
{"k":"b32","t":0,"y":-0.85,"lo":-0.96,"hi":-0.74},{"k":"b32","t":4,"y":-1.06,"lo":-1.12,"hi":-1},{"k":"b32","t":8,"y":-1.18,"lo":-1.24,"hi":-1.12},{"k":"b32","t":12,"y":-1.42,"lo":-1.48,"hi":-1.36},{"k":"b32","t":16,"y":-1.64,"lo":-1.7,"hi":-1.58},{"k":"b32","t":20,"y":-1.76,"lo":-1.83,"hi":-1.69},{"k":"b32","t":24,"y":-1.79,"lo":-1.9,"hi":-1.68},
{"k":"b33","t":0,"y":-1.77,"lo":-2.15,"hi":-1.4},{"k":"b33","t":4,"y":-1.72,"lo":-1.88,"hi":-1.56},{"k":"b33","t":8,"y":-1.66,"lo":-1.75,"hi":-1.57},{"k":"b33","t":12,"y":-1.76,"lo":-1.82,"hi":-1.7},{"k":"b33","t":16,"y":-1.88,"lo":-1.94,"hi":-1.82},{"k":"b33","t":20,"y":-2.02,"lo":-2.08,"hi":-1.96},{"k":"b33","t":24,"y":-1.9,"lo":-2,"hi":-1.8},
{"k":"b34","t":0,"y":-1.2,"lo":-1.6,"hi":-0.85},{"k":"b34","t":4,"y":-1.15,"lo":-1.35,"hi":-0.95},{"k":"b34","t":7,"y":-0.9,"lo":-1.1,"hi":-0.7},{"k":"b34","t":10,"y":-0.65,"lo":-0.9,"hi":-0.4},{"k":"b34","t":13,"y":-0.85,"lo":-1.1,"hi":-0.6},{"k":"b34","t":16,"y":-1.25,"lo":-1.5,"hi":-1},{"k":"b34","t":20,"y":-1.65,"lo":-1.95,"hi":-1.4},{"k":"b34","t":24,"y":-1.9,"lo":-2.4,"hi":-1.45},
{"k":"b35","t":0,"y":-0.85,"lo":-0.97,"hi":-0.73},{"k":"b35","t":4,"y":-0.95,"lo":-1.01,"hi":-0.89},{"k":"b35","t":8,"y":-1.1,"lo":-1.15,"hi":-1.05},{"k":"b35","t":12,"y":-1.3,"lo":-1.35,"hi":-1.25},{"k":"b35","t":16,"y":-1.5,"lo":-1.56,"hi":-1.44},{"k":"b35","t":20,"y":-1.68,"lo":-1.75,"hi":-1.61},{"k":"b35","t":24,"y":-1.6,"lo":-1.75,"hi":-1.45},
{"k":"b36","t":0,"y":-0.26,"lo":-0.34,"hi":-0.18},{"k":"b36","t":2.5,"y":-0.45,"lo":-0.51,"hi":-0.39},{"k":"b36","t":5,"y":-0.5,"lo":-0.56,"hi":-0.44},{"k":"b36","t":8,"y":-0.8,"lo":-0.86,"hi":-0.74},{"k":"b36","t":12,"y":-1.15,"lo":-1.21,"hi":-1.09},{"k":"b36","t":16,"y":-1.5,"lo":-1.56,"hi":-1.44},{"k":"b36","t":20,"y":-1.85,"lo":-1.92,"hi":-1.78},{"k":"b36","t":22,"y":-1.8,"lo":-1.88,"hi":-1.72},{"k":"b36","t":24,"y":-1.55,"lo":-1.67,"hi":-1.43},
{"k":"b37","t":0,"y":-0.2,"lo":-0.24,"hi":-0.16},{"k":"b37","t":5,"y":-0.45,"lo":-0.49,"hi":-0.41},{"k":"b37","t":12,"y":-0.9,"lo":-0.94,"hi":-0.86},{"k":"b37","t":16,"y":-1.1,"lo":-1.15,"hi":-1.05},{"k":"b37","t":19,"y":-1.2,"lo":-1.32,"hi":-1.08},{"k":"b37","t":22,"y":-1.35,"lo":-1.7,"hi":-1.05},{"k":"b37","t":24,"y":-1.53,"lo":-2.05,"hi":-1},
{"k":"b38","t":0,"y":-0.97},{"k":"b38","t":5,"y":-1.39},{"k":"b38","t":9,"y":-1.8},{"k":"b38","t":12,"y":-2.1},{"k":"b38","t":15,"y":-2.4},{"k":"b38","t":18,"y":-2.58},{"k":"b38","t":21,"y":-2.68},{"k":"b38","t":24,"y":-2.74},
{"k":"b39","t":0,"y":-0.58,"lo":-0.68,"hi":-0.48},{"k":"b39","t":4,"y":-0.61,"lo":-0.67,"hi":-0.55},{"k":"b39","t":7,"y":-0.74,"lo":-0.8,"hi":-0.68},{"k":"b39","t":12,"y":-1.1,"lo":-1.16,"hi":-1.04},{"k":"b39","t":17,"y":-1.45,"lo":-1.51,"hi":-1.39},{"k":"b39","t":20,"y":-1.62,"lo":-1.68,"hi":-1.56},{"k":"b39","t":24,"y":-1.82,"lo":-1.92,"hi":-1.72},
{"k":"b40","t":0,"y":-0.6},{"k":"b40","t":2.5,"y":-0.85},{"k":"b40","t":5,"y":-0.95},{"k":"b40","t":8,"y":-0.85},{"k":"b40","t":12,"y":-1.05},{"k":"b40","t":16,"y":-1.35},{"k":"b40","t":20,"y":-1.55},{"k":"b40","t":24,"y":-1.72},
{"k":"b41","t":0,"y":-0.8,"lo":-1.2,"hi":-0.4},{"k":"b41","t":5,"y":-0.66,"lo":-0.95,"hi":-0.4},{"k":"b41","t":9,"y":-0.8,"lo":-1.1,"hi":-0.55},{"k":"b41","t":13,"y":-1.1,"lo":-1.35,"hi":-0.85},{"k":"b41","t":17,"y":-1.18,"lo":-1.42,"hi":-0.95},{"k":"b41","t":21,"y":-1.22,"lo":-1.5,"hi":-0.95},{"k":"b41","t":24,"y":-1.29,"lo":-1.58,"hi":-1},
{"k":"b42","t":0,"y":-0.85,"lo":-1.3,"hi":-0.4},{"k":"b42","t":5,"y":-0.95,"lo":-1.25,"hi":-0.65},{"k":"b42","t":9,"y":-1.15,"lo":-1.4,"hi":-0.9},{"k":"b42","t":13,"y":-1.38,"lo":-1.62,"hi":-1.14},{"k":"b42","t":17,"y":-1.6,"lo":-1.85,"hi":-1.35},{"k":"b42","t":21,"y":-1.73,"lo":-2,"hi":-1.46},{"k":"b42","t":24,"y":-1.75,"lo":-2.05,"hi":-1.45},
{"k":"b43","t":0,"y":-1.37,"lo":-1.75,"hi":-1},{"k":"b43","t":5,"y":-1.39,"lo":-1.72,"hi":-1.06},{"k":"b43","t":9,"y":-1.58,"lo":-1.9,"hi":-1.26},{"k":"b43","t":13,"y":-1.9,"lo":-2.25,"hi":-1.55},{"k":"b43","t":17,"y":-2.08,"lo":-2.45,"hi":-1.7},{"k":"b43","t":21,"y":-2.12,"lo":-2.55,"hi":-1.7},{"k":"b43","t":24,"y":-2.1,"lo":-2.55,"hi":-1.65}
]
},
"vconcat":[
{"title":{"text":"Density","orient":"left","anchor":"middle","fontSize":22,"offset":6},
"resolve":{"scale":{"stroke":"shared","fill":"shared"},"legend":{"stroke":"shared","fill":"shared"}},
"vconcat":[
{"title":{"text":"Length-for-age z-score","orient":"bottom","anchor":"middle","fontSize":22,"offset":9},
"resolve":{"scale":{"stroke":"shared","fill":"shared"},"legend":{"stroke":"shared","fill":"shared"}},
"vconcat":[
{
"title":{"text":"a)","frame":"group","offset":30},
"data":{"name":"dens"},
"transform":[{"lookup":"k","from":{"data":{"name":"curves"},"key":"k","fields":["c","g"]}}],
"facet":{"field":"c","type":"nominal","sort":["Brazil","Guatemala","Peru","Bangladesh","India","Nepal","Pakistan","Gambia","Guinea-Bissau","Malawi","South Africa","Tanzania","Zimbabwe","ki pooled"],"header":{"title":null,"labelFontSize":17.5,"labelColor":"#1A1A1A","labelPadding":7}},
"columns":7,
"spacing":{"row":23,"column":11},
"spec":{"width":156,"height":110,
"layer":[
{"transform":[{"filter":"datum.g != 'DHS'"}],
"mark":{"type":"line","interpolate":"monotone","strokeWidth":1.8,"clip":true},
"encoding":{
"x":{"field":"x","type":"quantitative","title":null,"scale":{"domain":[-6.7,6.7],"nice":false,"zero":false},"axis":{"values":[-6,-5,-4,-3,-2,-1,0,1,2,3,4,5,6],"tickCount":30,"labelExpr":"datum.value % 2 == 0 ? '' + datum.value : ''","labelOverlap":false,"labelFontSize":16.5,"labelColor":"#4D4D4D","labelPadding":9,"gridColor":"#EBEBEB","gridWidth":2}},
"y":{"field":"y","type":"quantitative","title":null,"scale":{"domain":[-0.027,0.534],"nice":false,"zero":false},"axis":{"values":[0,0.1,0.2,0.3,0.4,0.5],"tickCount":30,"format":".1f","labelOverlap":false,"labelFontSize":16.5,"labelColor":"#4D4D4D","labelPadding":9,"gridColor":"#EBEBEB","gridWidth":2}},
"stroke":{"field":"g","type":"nominal","scale":{"domain":["DHS","ki Latin America","ki South Asia","ki Africa"],"range":["#000000","#FF7F0E","#2CA02C","#1F77B4"]},"legend":{"title":null,"orient":"none","legendX":292,"legendY":791,"direction":"horizontal","symbolType":"stroke","symbolStrokeWidth":2.5,"symbolSize":784,"labelFontSize":16.5,"labelColor":"#000000","labelOffset":12,"columnPadding":11,"zindex":2}},
"detail":{"field":"k"}}},
{"transform":[{"filter":"datum.g == 'DHS'"}],
"mark":{"type":"line","interpolate":"monotone","strokeWidth":3.4,"color":"#333333","clip":true},
"encoding":{"x":{"field":"x","type":"quantitative"},"y":{"field":"y","type":"quantitative"},"detail":{"field":"k"}}}
]}
}
]}
]},
{"title":{"text":"Length-for-age z-score","orient":"left","anchor":"middle","fontSize":22,"offset":14},
"resolve":{"scale":{"stroke":"shared","fill":"shared"},"legend":{"stroke":"shared","fill":"shared"}},
"vconcat":[
{"title":{"text":"Child age, months","orient":"bottom","anchor":"middle","fontSize":22,"offset":12},
"resolve":{"scale":{"stroke":"shared","fill":"shared"},"legend":{"stroke":"shared","fill":"shared"}},
"vconcat":[
{
"title":{"text":"b)","frame":"group","offset":20},
"data":{"name":"traj"},
"transform":[{"lookup":"k","from":{"data":{"name":"curves"},"key":"k","fields":["c","g"]}}],
"facet":{"field":"c","type":"nominal","sort":["Brazil","Guatemala","Peru","Bangladesh","India","Nepal","Pakistan","Gambia","Guinea-Bissau","Malawi","South Africa","Tanzania","Zimbabwe","ki pooled"],"header":{"title":null,"labelFontSize":17.5,"labelColor":"#1A1A1A","labelPadding":12}},
"columns":7,
"spacing":{"row":24,"column":11},
"spec":{"width":156,"height":104,
"layer":[
{"transform":[{"aggregate":[{"op":"count","as":"n"}],"groupby":["c"]}],
"mark":{"type":"rule","color":"#A8A8A8","strokeWidth":2},
"encoding":{"y":{"datum":0}}},
{"transform":[{"filter":{"field":"lo","valid":true}}],
"mark":{"type":"area","opacity":0.25,"interpolate":"monotone","clip":true},
"encoding":{
"x":{"field":"t","type":"quantitative","title":null,"scale":{"domain":[-1.2,25.2],"nice":false,"zero":false},"axis":{"values":[0,6,12,18,24],"tickCount":30,"labelOverlap":false,"labelFontSize":16.5,"labelColor":"#4D4D4D","labelPadding":10,"gridColor":"#EBEBEB","gridWidth":2}},
"y":{"field":"lo","type":"quantitative","title":null,"scale":{"domain":[-3.2,1.65],"nice":false,"zero":false},"axis":{"values":[-3,-2.5,-2,-1.5,-1,-0.5,0,0.5,1,1.5],"tickCount":30,"labelExpr":"datum.value % 1 == 0 ? '' + datum.value : ''","labelOverlap":false,"labelFontSize":16.5,"labelColor":"#4D4D4D","labelPadding":9,"gridColor":"#EBEBEB","gridWidth":2}},
"y2":{"field":"hi"},
"fill":{"field":"g","type":"nominal","scale":{"domain":["DHS","ki Latin America","ki South Asia","ki Africa","zz"],"range":["#000000","#FF7F0E","#2CA02C","#1F77B4","#FFFFFF"]},"legend":{"title":null,"orient":"none","legendX":292,"legendY":791,"direction":"horizontal","symbolType":"square","symbolSize":784,"symbolOpacity":0.22,"symbolStrokeWidth":2.5,"symbolStrokeColor":"transparent","labelFontSize":16.5,"labelColor":"#000000","labelOpacity":0,"labelOffset":12,"columnPadding":11,"values":["DHS","ki Latin America","ki South Asia","ki Africa"],"zindex":1}},
"detail":{"field":"k"}}},
{"transform":[{"filter":"datum.g != 'DHS'"}],
"mark":{"type":"line","interpolate":"monotone","strokeWidth":1.8,"clip":true},
"encoding":{"x":{"field":"t","type":"quantitative"},"y":{"field":"y","type":"quantitative"},
"stroke":{"field":"g","type":"nominal","scale":{"domain":["DHS","ki Latin America","ki South Asia","ki Africa"],"range":["#000000","#FF7F0E","#2CA02C","#1F77B4"]},"legend":{"title":null,"orient":"none","legendX":292,"legendY":791,"direction":"horizontal","symbolType":"stroke","symbolStrokeWidth":2.5,"symbolSize":784,"labelFontSize":16.5,"labelColor":"#000000","labelOffset":12,"columnPadding":11,"zindex":2}},
"detail":{"field":"k"}}},
{"transform":[{"filter":"datum.g == 'DHS'"}],
"mark":{"type":"line","interpolate":"monotone","strokeWidth":3.4,"clip":true},
"encoding":{"x":{"field":"t","type":"quantitative"},"y":{"field":"y","type":"quantitative"},
"stroke":{"field":"g","type":"nominal","scale":{"domain":["DHS","ki Latin America","ki South Asia","ki Africa"],"range":["#000000","#FF7F0E","#2CA02C","#1F77B4"]},"legend":{"title":null,"orient":"none","legendX":292,"legendY":791,"direction":"horizontal","symbolType":"stroke","symbolStrokeWidth":2.5,"symbolSize":784,"labelFontSize":16.5,"labelColor":"#000000","labelOffset":12,"columnPadding":11,"zindex":2}},
"detail":{"field":"k"}}}
]}
}
]}
]}
]
}
